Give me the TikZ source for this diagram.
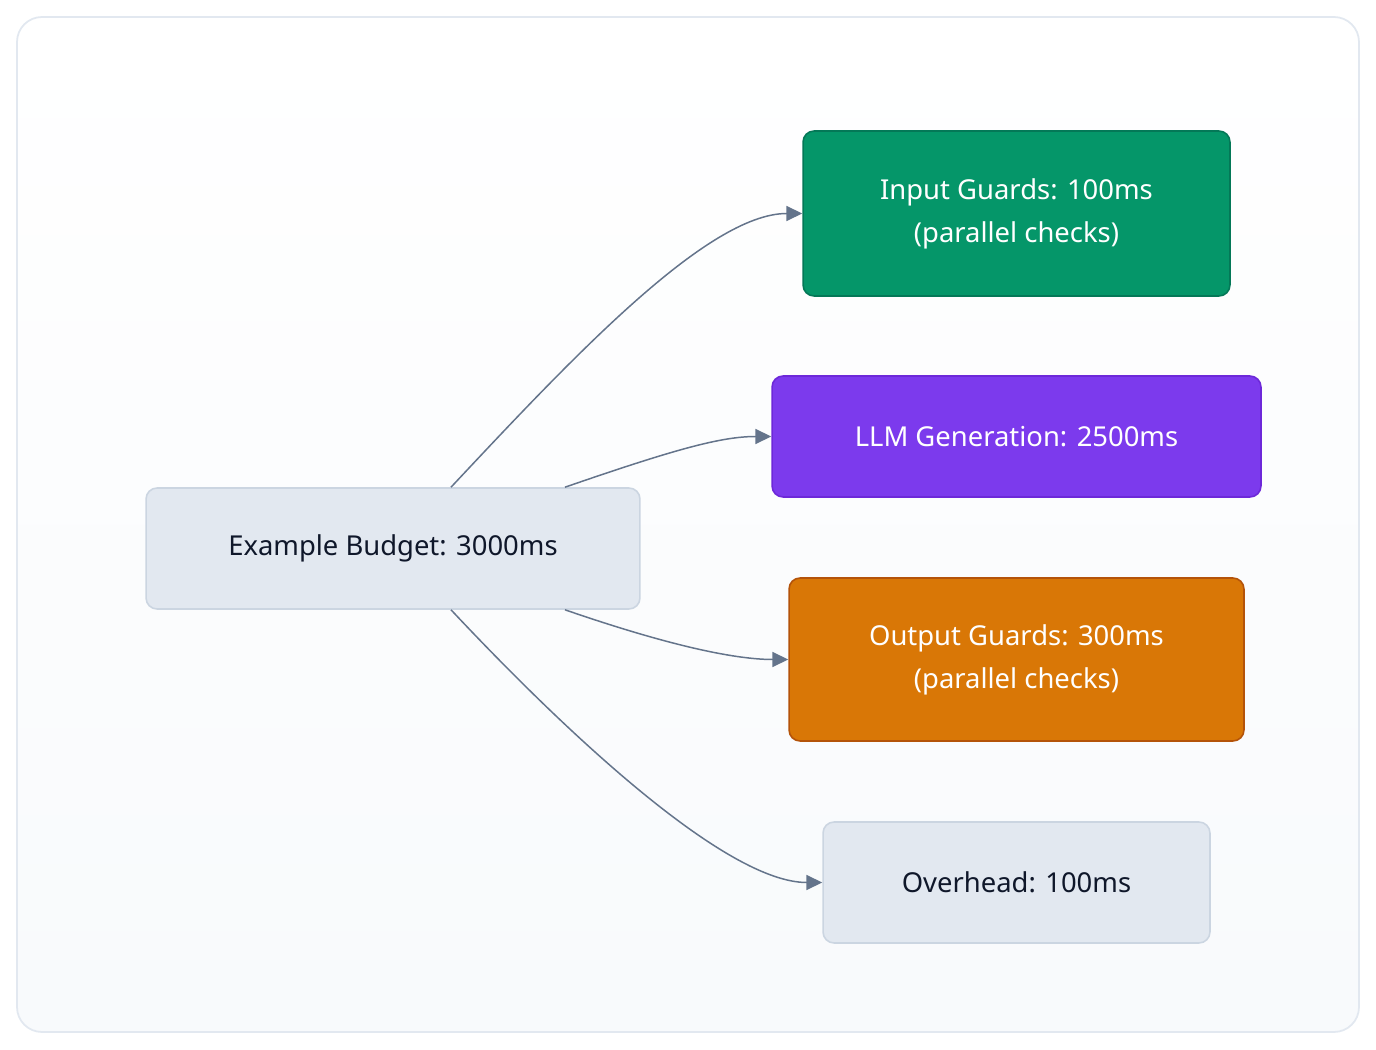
\documentclass[tikz,border=0pt]{standalone}
\usepackage{fontspec}
\setmainfont{Noto Sans}
\usetikzlibrary{arrows.meta}

\definecolor{slateline}{HTML}{64748B}
\definecolor{slatefill}{HTML}{E2E8F0}
\definecolor{slateedge}{HTML}{CBD5E1}
\definecolor{framefill}{HTML}{F8FAFC}
\definecolor{greenfill}{HTML}{059669}
\definecolor{greenedge}{HTML}{047857}
\definecolor{violetfill}{HTML}{7C3AED}
\definecolor{violetedge}{HTML}{6D28D9}
\definecolor{amberfill}{HTML}{D97706}
\definecolor{amberedge}{HTML}{B45309}
\definecolor{inktext}{HTML}{0F172A}

\begin{document}
\begin{tikzpicture}[x=0.02cm,y=-0.02cm,line width=0.8pt,
  >={Triangle[length=9pt,width=8.5pt]},
  box/.style={rectangle,rounded corners=0.22cm,inner sep=0pt,line width=0.9pt,
    align=center,font=\fontsize{15.6}{24.5}\selectfont},
  lightbox/.style={box,fill=slatefill,draw=slateedge,text=inktext},
  flow/.style={draw=slateline,line width=0.85pt,->}]
\useasboundingbox (0,0) rectangle (1376,1050);
% ---------- frame ----------
\fill[white] (0,0) rectangle (1376,1050);
\shade[top color=white,bottom color=framefill,rounded corners=0.5cm]
  (17,17) rectangle (1359,1032);
\draw[slatefill,line width=1pt,rounded corners=0.5cm] (17,17) rectangle (1359,1032);
% ---------- budget and its parts ----------
\node[lightbox,minimum width=9.88cm,minimum height=2.42cm] (budget) at (393,548.5)
  {Example Budget: 3000ms};
\node[box,fill=greenfill,draw=greenedge,text=white,minimum width=8.54cm,minimum height=3.3cm]
  (inguard) at (1016.5,213.5) {Input Guards: 100ms\\(parallel checks)};
\node[box,fill=violetfill,draw=violetedge,text=white,minimum width=9.78cm,minimum height=2.42cm]
  (llm) at (1016.5,436.5) {LLM Generation: 2500ms};
\node[box,fill=amberfill,draw=amberedge,text=white,minimum width=9.1cm,minimum height=3.26cm]
  (outguard) at (1016.5,659.5) {Output Guards: 300ms\\(parallel checks)};
\node[lightbox,minimum width=7.74cm,minimum height=2.42cm] (overhead) at (1016.5,882.5)
  {Overhead: 100ms};
% ---------- connectors ----------
\draw[flow] ([xshift=1.16cm]budget.north) .. controls +(120,-128) and +(-95,0) .. (inguard.west);
\draw[flow] ([xshift=3.44cm]budget.north) .. controls +(110,-38) and +(-50,0) .. (llm.west);
\draw[flow] ([xshift=3.44cm]budget.south) .. controls +(110,38) and +(-50,0) .. (outguard.west);
\draw[flow] ([xshift=1.16cm]budget.south) .. controls +(120,128) and +(-95,0) .. (overhead.west);
\end{tikzpicture}
\end{document}
